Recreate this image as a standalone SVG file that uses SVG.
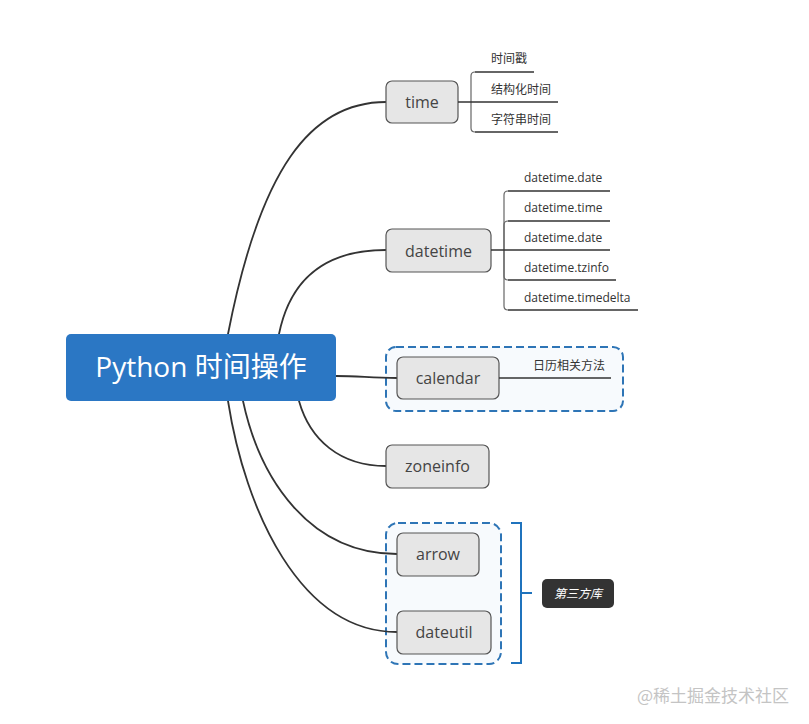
<svg xmlns="http://www.w3.org/2000/svg" width="809" height="724" viewBox="0 0 809 724">
<style>
  .conn { fill: none; stroke: #333; stroke-width: 1.8; stroke-linecap: round; }
  .node rect { fill: #e6e6e6; stroke: #555; stroke-width: 1.2; }
  .node text { font-family: "Open Sans", "Noto Sans", sans-serif; font-size: 16px; fill: #444; text-anchor: middle; }
  .leaf text { font-family: "Open Sans", "Noto Sans", "Noto Sans CJK SC", sans-serif; font-size: 12px; fill: #333; }
  .under { fill: none; stroke: #333; stroke-width: 1.3; }
  .brk { fill: none; stroke: #666; stroke-width: 1.2; }
  .boundary { fill: #f7fafd; stroke: #2e75b6; stroke-width: 2; stroke-dasharray: 8 4; }
</style>
<rect width="809" height="724" fill="#ffffff"/>

<!-- boundaries -->
<rect class="boundary" x="386" y="347" width="237" height="64" rx="10"/>
<rect class="boundary" x="386" y="523" width="115" height="141" rx="12"/>

<!-- connectors -->
<g id="connectors">
  <path class="conn" d="M228,334 C260,170 310,102 386,102"/>
  <path class="conn" d="M279,334 C288,290 315,250 386,250"/>
  <path class="conn" d="M336,376 C360,376 370,378 397,378"/>
  <path class="conn" d="M299,401 C310,440 340,466 386,466"/>
  <path class="conn" d="M243,401 C260,480 310,554 397,554"/>
  <path class="conn" d="M228,401 C245,510 300,632 397,632"/>
</g>

<!-- root -->
<g id="root">
  <rect x="66" y="334" width="270" height="67" rx="5" fill="#2b77c4"/>
  <text x="201" y="377" font-family="'Open Sans', 'Noto Sans', 'Noto Sans CJK SC', sans-serif" font-size="28" fill="#ffffff" text-anchor="middle">Python 时间操作</text>
</g>

<!-- time -->
<g id="node-time" class="node">
  <rect x="386" y="81" width="72" height="42" rx="6"/>
  <text x="422" y="108">time</text>
</g>
<g id="time-leaves" class="leaf">
  <path class="brk" d="M475,72 Q471,72 471,76 L471,128 Q471,132 475,132"/>
  <path class="under" d="M475,72 L534,72"/>
  <path class="under" d="M458,102 L558,102"/>
  <path class="under" d="M475,132 L558,132"/>
  <text x="491" y="63">时间戳</text>
  <text x="491" y="93.5">结构化时间</text>
  <text x="491" y="123.5">字符串时间</text>
</g>

<!-- datetime -->
<g id="node-datetime" class="node">
  <rect x="386" y="229" width="105" height="43" rx="6"/>
  <text x="438.5" y="256.5">datetime</text>
</g>
<g id="datetime-leaves" class="leaf">
  <path class="brk" d="M508,191 Q504,191 504,195 L504,306 Q504,310 508,310"/>
  <path class="brk" d="M508,221 Q504,221 504,225 L504,276 Q504,280 508,280"/>
  <path class="under" d="M508,191 L610,191"/>
  <path class="under" d="M508,221 L610,221"/>
  <path class="under" d="M491,250 L610,250"/>
  <path class="under" d="M508,280 L616,280"/>
  <path class="under" d="M508,310 L638,310"/>
  <text x="524" y="182">datetime.date</text>
  <text x="524" y="212">datetime.time</text>
  <text x="524" y="242">datetime.date</text>
  <text x="524" y="272">datetime.tzinfo</text>
  <text x="524" y="302">datetime.timedelta</text>
</g>

<!-- calendar -->
<g id="node-calendar" class="node">
  <rect x="397" y="357" width="102" height="42" rx="6"/>
  <text x="448" y="384">calendar</text>
</g>
<g id="calendar-leaves" class="leaf">
  <path class="under" d="M499,378 L611,378"/>
  <text x="533" y="369.5">日历相关方法</text>
</g>

<!-- zoneinfo -->
<g id="node-zoneinfo" class="node">
  <rect x="386" y="445" width="103" height="43" rx="6"/>
  <text x="437.5" y="472">zoneinfo</text>
</g>

<!-- arrow -->
<g id="node-arrow" class="node">
  <rect x="397" y="533" width="82" height="43" rx="6"/>
  <text x="438" y="560">arrow</text>
</g>

<!-- dateutil -->
<g id="node-dateutil" class="node">
  <rect x="397" y="611" width="94" height="43" rx="6"/>
  <text x="444" y="638">dateutil</text>
</g>

<!-- summary bracket -->
<g id="summary">
  <path d="M511,523 L521,523 L521,663 L511,663 M521,593 L532,593" fill="none" stroke="#1f73bd" stroke-width="2"/>
  <rect x="542" y="579" width="72" height="29" rx="5" fill="#333333"/>
  <text x="578" y="598" font-family="'Noto Sans CJK SC', sans-serif" font-size="12" font-style="italic" fill="#ffffff" text-anchor="middle">第三方库</text>
</g>

<text x="637" y="702" font-family="'Noto Sans CJK SC', sans-serif" font-size="17" fill="#c4c4c4">@稀土掘金技术社区</text>
</svg>
